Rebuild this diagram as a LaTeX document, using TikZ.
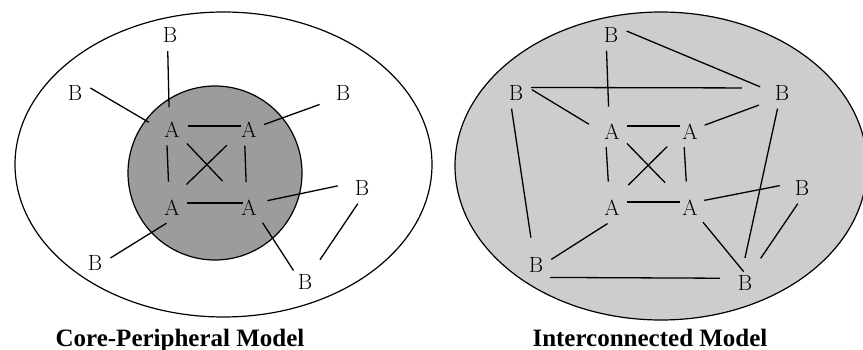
\documentclass[tikz,border=0pt]{standalone}
\usepackage{fontspec}
\usepackage{tikz}
\newfontfamily\capfont{Liberation Serif}
\definecolor{coregray}{HTML}{9C9C9C}
\definecolor{meshgray}{HTML}{CDCDCD}

\tikzset{
  actor/.style={circle, inner sep=0pt, minimum size=32pt,
                font=\fontsize{22}{26}\selectfont},
  link/.style={line width=1.3pt},
  caption/.style={anchor=base, font=\capfont\bfseries\fontsize{25}{30}\selectfont}
}

\begin{document}
\begin{tikzpicture}[x=1pt, y=-1pt]
  % 1pt = 1px of the 863x350 frame, y runs down
  \useasboundingbox (0,0) rectangle (863,350);

  % Regions
  \draw[line width=1.2pt, fill=white] (223.5,164.5) ellipse [x radius=208.5pt, y radius=152.5pt];
  \draw[line width=1.2pt, fill=coregray] (215,173) circle [radius=87pt];
  \draw[line width=1.2pt, fill=meshgray] (661,166) ellipse [x radius=206pt, y radius=154pt];

  % Core-peripheral nodes
  \foreach \nm/\xc/\yc/\lbl in {
    lbt/170/35/B, lbl/75/93/B, lbr/343/93/B,
    latl/172/130/A, latr/249/130/A, labl/172/208/A, labr/249/208/A,
    lbrm/362/188/B, lbbl/95/263/B, lbbr/305/282/B
  }{
    \node[actor] (\nm) at (\xc,\yc) {\lbl};
  }

  % Interconnected nodes
  \foreach \nm/\xc/\yc/\lbl in {
    rbt/611/35/B, rbl/516/93/B, rbr/782/93/B,
    ratl/612/132/A, ratr/690/132/A, rabl/612/208/A, rabr/690/208/A,
    rbrm/802/188/B, rbbl/536/265/B, rbbr/745/283/B
  }{
    \node[actor] (\nm) at (\xc,\yc) {\lbl};
  }

  % Links: from/to/shorten start/shorten end
  \foreach \a/\b/\s/\e in {
    lbt.262/latl.100/0/7,
    lbl.18/latl.168/0/8.5,
    lbr.210/latr.20/10/0,
    latl.14/latr.166/0/-8,
    latl.252/labl.101/0/10.5,
    latr.255/labr.99/0/10,
    latl.319/labr.136/4/21.5,
    latr.208/labl.69/11/12,
    labl.18/labr.162/0/-9,
    labl.250/lbbl.18/0/0,
    labr.24/lbrm.166/3.7/8.7,
    labr.315/lbbr.135/4/0,
    lbrm.255/lbbr.56/0/10.6
  }{
    \draw[link, shorten <=\s pt, shorten >=\e pt] (\a) -- (\b);
  }

  \foreach \a/\b/\s/\e in {
    rbt.254/ratl.101/0/9.5,
    rbt.14/rbr.167/0/6.6,
    rbl.20/rbr.162/0/24.8,
    rbl.12/ratl.168/0/8.5,
    rbr.212/ratr.25/10/0,
    rbl.254/rbbl.102/0/11.7,
    rbr.254/rbbr.97/0/9.2,
    ratl.22/ratr.158/0/-5,
    ratl.249/rabl.101/0/10.5,
    ratr.249/rabr.101/0/10.5,
    ratl.324/rabr.135/2.6/19.4,
    ratr.204/rabl.62/11.3/12.2,
    rabl.22/rabr.158/0/-5,
    rabl.254/rbbl.20/0/0,
    rabr.28/rbrm.167/0/6.6,
    rabr.313/rbbr.107/3/-5.6,
    rbrm.255/rbbr.59/0/13,
    rbbl.310/rbbr.163/3.7/9.7
  }{
    \draw[link, shorten <=\s pt, shorten >=\e pt] (\a) -- (\b);
  }

  % Captions
  \node[caption] (capl) at (180,346) {Core-Peripheral Model};
  \node[caption] (capr) at (650,346) {Interconnected Model};
\end{tikzpicture}
\end{document}
